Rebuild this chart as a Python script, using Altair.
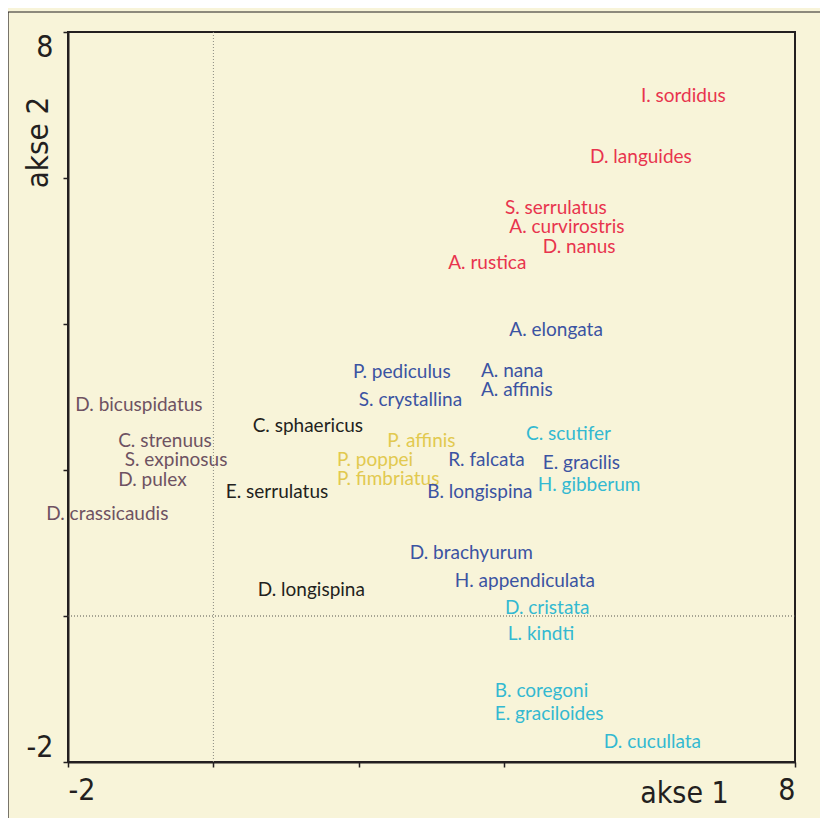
import altair as alt
import pandas as pd

species = ["I. sordidus", "D. languides", "S. serrulatus", "A. curvirostris", "D. nanus", "A. rustica",
           "A. elongata", "P. pediculus", "A. nana", "A. affinis", "S. crystallina",
           "D. bicuspidatus", "C. sphaericus", "C. strenuus", "P. affinis", "C. scutifer",
           "S. expinosus", "P. poppei", "R. falcata", "E. gracilis", "D. pulex", "P. fimbriatus",
           "H. gibberum", "E. serrulatus", "B. longispina", "D. crassicaudis", "D. brachyurum",
           "H. appendiculata", "D. longispina", "D.  cristata", "L. kindti", "B. coregoni",
           "E. graciloides", "D. cucullata"]
akse1 = [5.88, 5.18, 4.01, 4.07, 4.53, 3.23,
         4.07, 1.92, 3.68, 3.68, 2.00,
         -1.90, 0.54, -1.31, 2.39, 4.30,
         -1.22, 1.70, 3.23, 4.53, -1.31, 1.70,
         4.46, 0.17, 2.94, -2.30, 2.70,
         3.32, 0.61, 4.01, 4.05, 3.87,
         3.87, 5.37]
akse2 = [7.12, 6.29, 5.59, 5.33, 5.05, 4.84,
         3.92, 3.34, 3.36, 3.10, 2.96,
         2.89, 2.60, 2.40, 2.40, 2.49,
         2.14, 2.14, 2.14, 2.10, 1.86, 1.88,
         1.79, 1.70, 1.70, 1.40, 0.86,
         0.48, 0.36, 0.11, -0.25, -1.03,
         -1.34, -1.73]
group = ["r", "r", "r", "r", "r", "r",
         "b", "b", "b", "b", "b",
         "m", "k", "m", "y", "c",
         "m", "y", "b", "b", "m", "y",
         "c", "k", "b", "m", "b",
         "b", "k", "c", "c", "c",
         "c", "c"]
group_keys = ["r", "b", "c", "y", "m", "k"]
group_colors = ["#e8344e", "#3b53a2", "#33b9d1", "#e2c94f", "#6e5262", "#231f20"]

df = pd.DataFrame({"species": species, "akse1": akse1, "akse2": akse2, "group": group})
zero = pd.DataFrame({"z": [0]})

BG = "#f8f4d9"
TICKFONT = "Liberation Sans Narrow, DejaVu Sans Condensed, sans-serif"
END_LABELS = "datum.value == -2 ? '-2' : (datum.value == 8 ? '8' : '')"

xscale = alt.Scale(domain=[-2, 8], nice=False, zero=False)
yscale = alt.Scale(domain=[-2, 8], nice=False, zero=False)

frame = alt.Chart(zero).mark_rect(fillOpacity=0, stroke="#231f20", strokeWidth=1.2).encode(
    x=alt.value(-60), x2=alt.value(760), y=alt.value(-20), y2=alt.value(790)
)

vline = alt.Chart(zero).mark_rule(color="#8a8a80", strokeWidth=1, strokeDash=[1, 2]).encode(
    x=alt.X("z:Q", scale=xscale)
)
hline = alt.Chart(zero).mark_rule(color="#55554f", strokeWidth=1, strokeDash=[1, 2]).encode(
    y=alt.Y("z:Q", scale=yscale)
)

labels = alt.Chart(df).mark_text(align="left", baseline="middle", fontSize=19, font="Lato").encode(
    x=alt.X("akse1:Q", scale=xscale,
            axis=alt.Axis(values=[-2, 0, 2, 4, 8], labelExpr=END_LABELS,
                          title="akse 1", titleX=616, titleY=31, titleAlign="center", titleBaseline="middle",
                          titleFontSize=30, titleFontWeight="normal", titleFont=TICKFONT, titleColor="#231f20",
                          labelFlush=True, labelFontSize=30, labelFont=TICKFONT, labelColor="#231f20",
                          labelPadding=8, grid=False, domainColor="#231f20", domainWidth=2,
                          tickColor="#231f20", tickSize=5, tickWidth=1.5)),
    y=alt.Y("akse2:Q", scale=yscale,
            axis=alt.Axis(values=[-2, 0, 2, 4, 6, 8], labelExpr=END_LABELS,
                          title="akse 2", titleX=-30, titleY=110, titleAngle=270, titleAlign="center",
                          titleBaseline="middle", titleFontSize=31, titleFontWeight="normal", titleFont=TICKFONT,
                          titleColor="#231f20",
                          labelFlush=True, labelFontSize=30, labelFont=TICKFONT, labelColor="#231f20",
                          labelPadding=10, grid=False, domainColor="#231f20", domainWidth=2,
                          tickColor="#231f20", tickSize=5, tickWidth=1.5)),
    text="species:N",
    color=alt.Color("group:N", scale=alt.Scale(domain=group_keys, range=group_colors), legend=None),
)

chart = alt.layer(frame, vline, hline, labels).properties(
    width=727, height=730,
    background=BG,
    padding={"left": 60, "top": 24, "right": 25, "bottom": 56},
    autosize=alt.AutoSizeParams(type="none"),
).configure_view(stroke="#231f20", strokeWidth=2)

chart.save("out.html", embed_options={"renderer": "svg", "actions": False})
